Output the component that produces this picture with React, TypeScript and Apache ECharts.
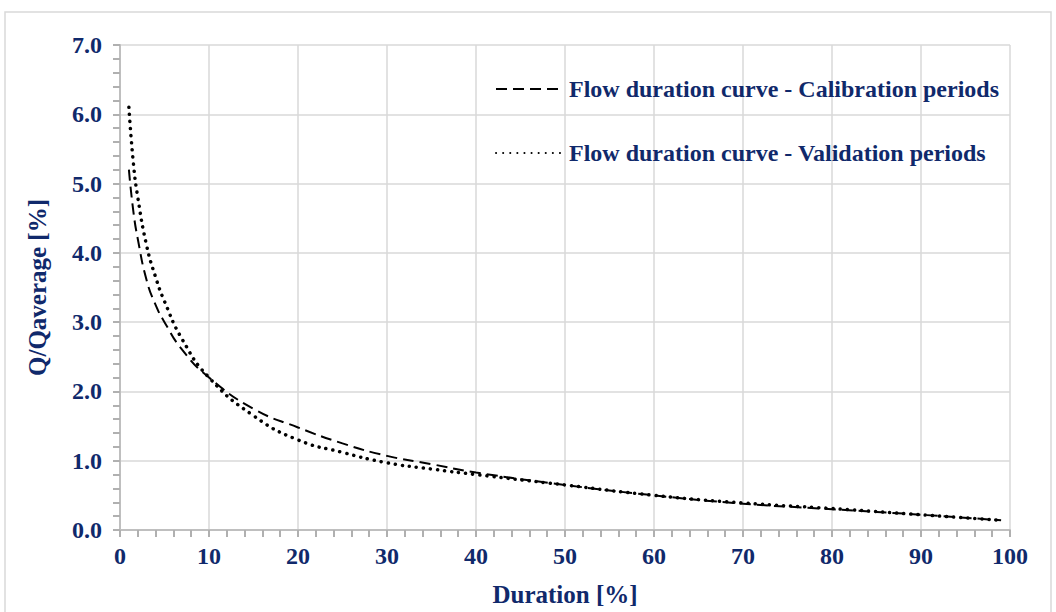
import React, { useEffect, useRef } from "react";
import * as echarts from "echarts";

const calX = [1, 1.5, 2, 3, 4, 5, 7, 10, 15, 20, 25, 30, 35, 40, 50, 60, 70, 80, 90, 99];
const calY = [5.2, 4.6, 4.2, 3.6, 3.25, 3.0, 2.6, 2.2, 1.75, 1.48, 1.25, 1.07, 0.95, 0.83, 0.65, 0.5, 0.38, 0.3, 0.22, 0.14];
const valX = [1, 1.5, 2, 3, 4, 5, 7, 10, 15, 20, 25, 30, 35, 40, 50, 60, 70, 80, 90, 99];
const valY = [6.1, 5.3, 4.8, 4.1, 3.65, 3.3, 2.75, 2.2, 1.65, 1.3, 1.12, 0.97, 0.88, 0.8, 0.65, 0.5, 0.39, 0.31, 0.22, 0.14];

const navy = "#10296b";
const font = "Liberation Serif";

export default function App() {
  const ref = useRef<HTMLDivElement>(null);
  useEffect(() => {
    const chart = echarts.init(ref.current!, null, { renderer: "svg" });
    const axisCommon = {
      axisLine: { show: true, lineStyle: { color: "#bfbfbf", width: 2 } },
      axisTick: { show: true, length: 7, lineStyle: { color: "#b0b0b0", width: 2 } },
      minorTick: { show: true, splitNumber: 5, length: 7, lineStyle: { color: "#b0b0b0", width: 2 } },
      splitLine: { show: true, lineStyle: { color: "#d9d9d9", width: 1.5 } },
      axisLabel: { color: navy, fontFamily: font, fontWeight: "bold", fontSize: 24 },
      nameTextStyle: { color: navy, fontFamily: font, fontWeight: "bold", fontSize: 25 },
    };
    chart.setOption({
      animation: false,
      graphic: [{ type: "rect", shape: { x: 5, y: 12, width: 1046, height: 620 }, style: { fill: "none", stroke: "#d9d9d9", lineWidth: 1.5 } }],
      grid: { left: 120, right: 46, top: 45, bottom: 77 },
      legend: {
        orient: "vertical", right: 52, top: 72, itemWidth: 68, itemGap: 40,
        itemStyle: { opacity: 0 },
        textStyle: { color: navy, fontFamily: font, fontWeight: "bold", fontSize: 24 },
        data: ["Flow duration curve - Calibration periods", "Flow duration curve - Validation periods"],
      },
      xAxis: {
        ...axisCommon, type: "value", min: 0, max: 100, interval: 10,
        name: "Duration [%]", nameLocation: "middle", nameGap: 52,
        axisLabel: { ...axisCommon.axisLabel, margin: 14 },
      },
      yAxis: {
        ...axisCommon, type: "value", min: 0, max: 7, interval: 1,
        name: "Q/Qaverage [%]", nameLocation: "middle", nameGap: 70,
        axisLabel: { ...axisCommon.axisLabel, formatter: (v: number) => v.toFixed(1), margin: 18 },
      },
      series: [
        {
          name: "Flow duration curve - Calibration periods", type: "line", smooth: true, showSymbol: false, symbol: "none",
          data: calX.map((x, i) => [x, calY[i]]),
          lineStyle: { color: "#000", width: 2, type: [11, 6] }, itemStyle: { color: "#000" },
        },
        {
          name: "Flow duration curve - Validation periods", type: "line", smooth: true, showSymbol: false, symbol: "none",
          data: valX.map((x, i) => [x, valY[i]]),
          lineStyle: { color: "#000", width: 3.5, type: [0.1, 7], cap: "round" }, itemStyle: { color: "#000" },
        },
      ],
    });
    return () => chart.dispose();
  }, []);
  return <div ref={ref} style={{ position: "fixed", left: 0, top: 0, width: 1056, height: 612, background: "#fff" }} />;
}
